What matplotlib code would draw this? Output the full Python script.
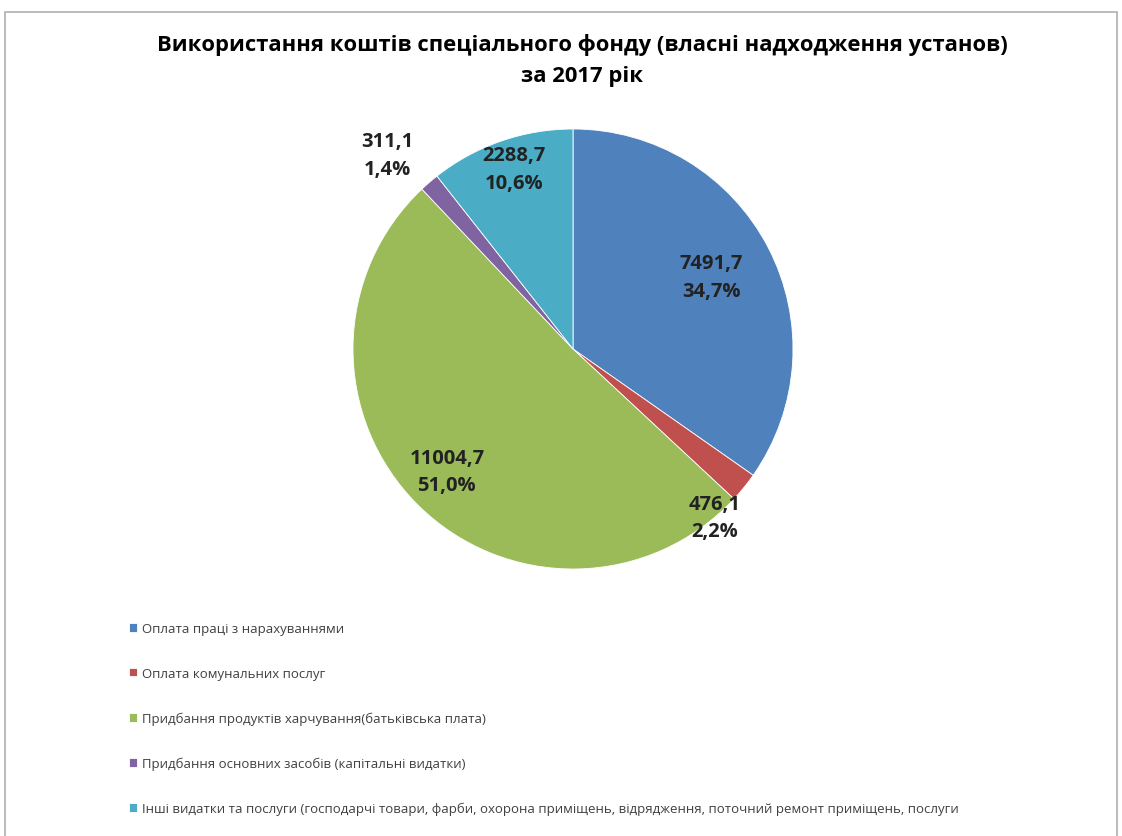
import matplotlib.pyplot as plt
import numpy as np
from matplotlib.patches import Rectangle

plt.rcParams['font.family'] = ['Open Sans', 'DejaVu Sans']

categories = [
    'Оплата праці з нарахуваннями',
    'Оплата комунальних послуг',
    'Придбання продуктів харчування(батьківська плата)',
    'Придбання основних засобів (капітальні видатки)',
    'Інші видатки та послуги (господарчі товари, фарби, охорона приміщень, відрядження, поточний ремонт приміщень, послуги',
]
values = [7491.7, 476.1, 11004.7, 311.1, 2288.7]
value_labels = ['7491,7', '476,1', '11004,7', '311,1', '2288,7']
pct_labels = ['34,7%', '2,2%', '51,0%', '1,4%', '10,6%']
colors = ['#4F81BD', '#C0504D', '#9BBB59', '#8064A2', '#4BACC6']

# label placement: (radius, angle shift in degrees) relative to wedge middle
label_pos = [(0.71, 0), (1.0, -11), (0.80, -1), (1.22, 3), (0.86, -1)]

fig = plt.figure(figsize=(11.22, 8.37), dpi=100)
fig.patches.append(Rectangle((5 / 1122, -0.1), 1112 / 1122, 1.1 - 13 / 837,
                             transform=fig.transFigure, fill=False,
                             edgecolor='#b0b0b0', linewidth=1.2))

fig.text(0.519, 0.946, 'Використання коштів спеціального фонду (власні надходження установ)',
         ha='center', va='center', fontsize=15.8, fontweight='bold', color='black')
fig.text(0.519, 0.909, 'за 2017 рік', ha='center', va='center',
         fontsize=15.8, fontweight='bold', color='black')

ax = fig.add_axes([353 / 1122, (837 - 570) / 837, 440 / 1122, 440 / 837])
wedges, _ = ax.pie(values, colors=colors, startangle=90, counterclock=False,
                   radius=1, wedgeprops=dict(edgecolor='white', linewidth=0.6))
ax.set_xlim(-1, 1)
ax.set_ylim(-1, 1)
ax.axis('off')

for w, v, p, (r, shift) in zip(wedges, value_labels, pct_labels, label_pos):
    ang = np.deg2rad((w.theta1 + w.theta2) / 2 + shift)
    ax.text(r * np.cos(ang), r * np.sin(ang), v + '\n' + p, ha='center', va='center',
            fontsize=14.5, fontweight='bold', color='#222222', linespacing=1.5,
            clip_on=False)

leg = fig.legend(wedges, categories, loc='upper left', bbox_to_anchor=(124 / 1122, 1 - 618 / 837),
                 frameon=False, fontsize=9.5, handlelength=0.6, handleheight=0.6,
                 handletextpad=0.4, labelspacing=2.4, borderaxespad=0)
for t in leg.get_texts():
    t.set_color('#404040')

fig.savefig('out.png', dpi=100)
